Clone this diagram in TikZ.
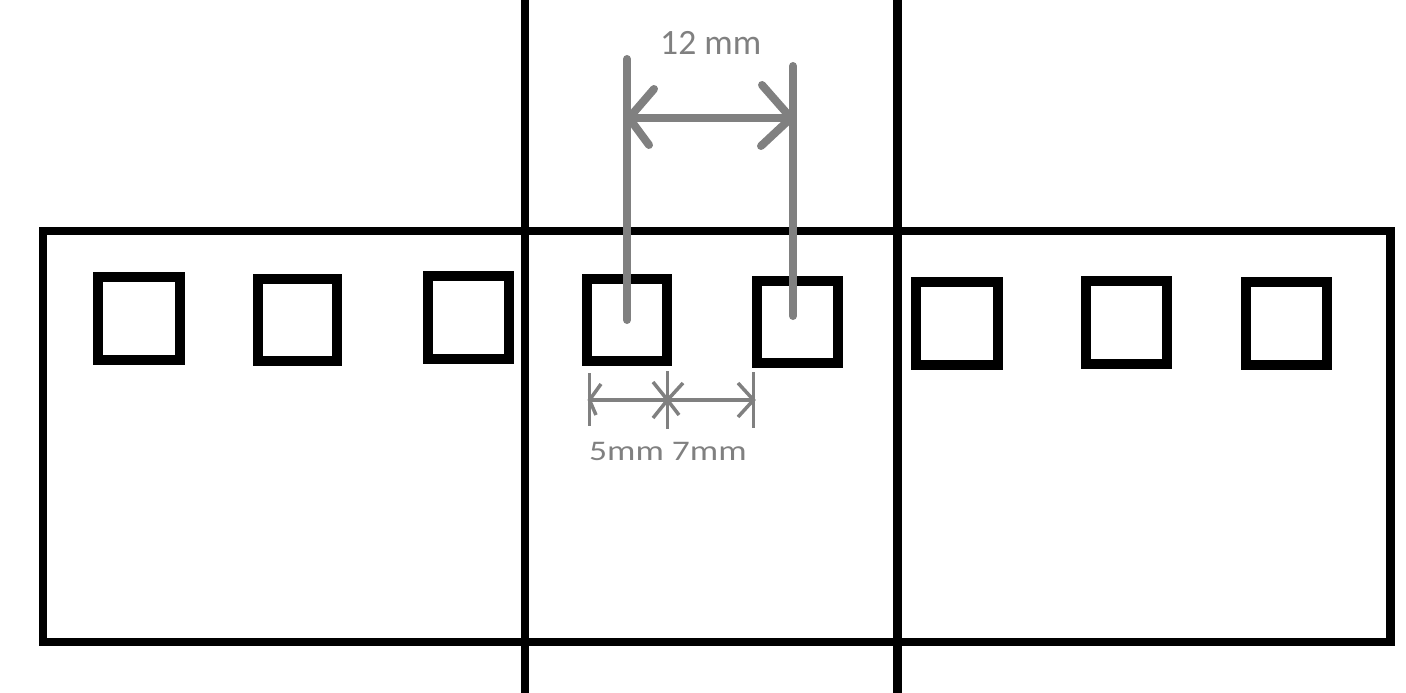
\documentclass[tikz,border=0pt]{standalone}
\usepackage{fontspec}
\setmainfont{Carlito}
\definecolor{dimgray}{HTML}{808080}
\tikzset{
  blk/.style={line width=8.5pt, draw=black},
  sq/.style={draw=black, line width=10pt, rectangle, inner sep=0pt, minimum width=81pt, minimum height=82.5pt},
  bigdim/.style={draw=dimgray, line width=8pt, line cap=round},
  smalldim/.style={draw=dimgray, line width=3.5pt},
  lbl/.style={text=dimgray, inner sep=0pt, anchor=base west}
}
\begin{document}
\begin{tikzpicture}[x=1pt,y=-1pt]
\useasboundingbox (0,0) rectangle (1406,693);
% outer frame
\node[draw=black, line width=8.5pt, rectangle, inner sep=0pt, minimum width=1347.5pt, minimum height=411pt] (outer) at (716.75,436.5) {};
% vertical cut lines
\coordinate (v1t) at (525,-5);  \coordinate (v1b) at (525,698);
\coordinate (v2t) at (897.5,-5); \coordinate (v2b) at (897.5,698);
\draw[blk] (v1t) -- (v1b);
\draw[blk] (v2t) -- (v2b);
% squares
\node[sq, minimum width=82.5pt, minimum height=83pt] (s1) at (138.75,318) {};
\node[sq, minimum width=79pt, minimum height=81.5pt] (s2) at (297.5,319.75) {};
\node[sq, minimum width=81.5pt, minimum height=83pt] (s3) at (468.25,317.5) {};
\node[sq, minimum width=80pt, minimum height=82pt] (s4) at (627,320) {};
\node[sq, minimum width=81pt, minimum height=82pt] (s5) at (797.5,322) {};
\node[sq, minimum width=82pt, minimum height=83.5pt] (s6) at (957,323.25) {};
\node[sq, minimum width=81pt, minimum height=83pt] (s7) at (1126.5,322) {};
\node[sq, minimum width=81pt, minimum height=83.5pt] (s8) at (1286.5,323.25) {};
% 12 mm dimension
\coordinate (g1t) at (627,59);
\coordinate (g2t) at (793,66);
\coordinate (g2b) at (793,316);
\draw[bigdim] (g1t) -- (s4.center);
\draw[bigdim] (g2t) -- (g2b);
\coordinate (ha) at (629,118);
\coordinate (hb) at (791,118);
\draw[bigdim] (ha) -- (hb);
\coordinate (ha1) at (654,89);
\coordinate (ha2) at (649,145);
\coordinate (hb1) at (762,85);
\coordinate (hb2) at (761,146);
\draw[bigdim] (ha1) -- (ha) -- (ha2);
\draw[bigdim] (hb1) -- (hb) -- (hb2);
\node[lbl, font=\fontsize{35.6}{40}\selectfont] (t12) at (660,55) {12 mm};
% 5mm 7mm dimension
\coordinate (k1t) at (589.5,373); \coordinate (k1b) at (589.5,426);
\coordinate (k2t) at (667.5,371); \coordinate (k2b) at (667.5,429);
\coordinate (k3t) at (753.5,372); \coordinate (k3b) at (753.5,428);
\draw[smalldim] (k1t) -- (k1b);
\draw[smalldim] (k2t) -- (k2b);
\draw[smalldim] (k3t) -- (k3b);
\coordinate (d1) at (589.5,400);
\coordinate (d2) at (667.5,400);
\coordinate (d3) at (753.5,400);
\draw[smalldim] (d1) -- (d3);
\draw[smalldim] (601,384) -- (d1) -- (596,415);
\draw[smalldim] (653,382) -- (d2) -- (653,418);
\draw[smalldim] (683,383) -- (d2) -- (679,415);
\draw[smalldim] (738,383) -- (d3) -- (738,417);
\node[lbl, font=\fontsize{28.4}{32}\selectfont] (t57) at (589,460) {\scalebox{1.25}[1]{5mm 7mm}};
\end{tikzpicture}
\end{document}
